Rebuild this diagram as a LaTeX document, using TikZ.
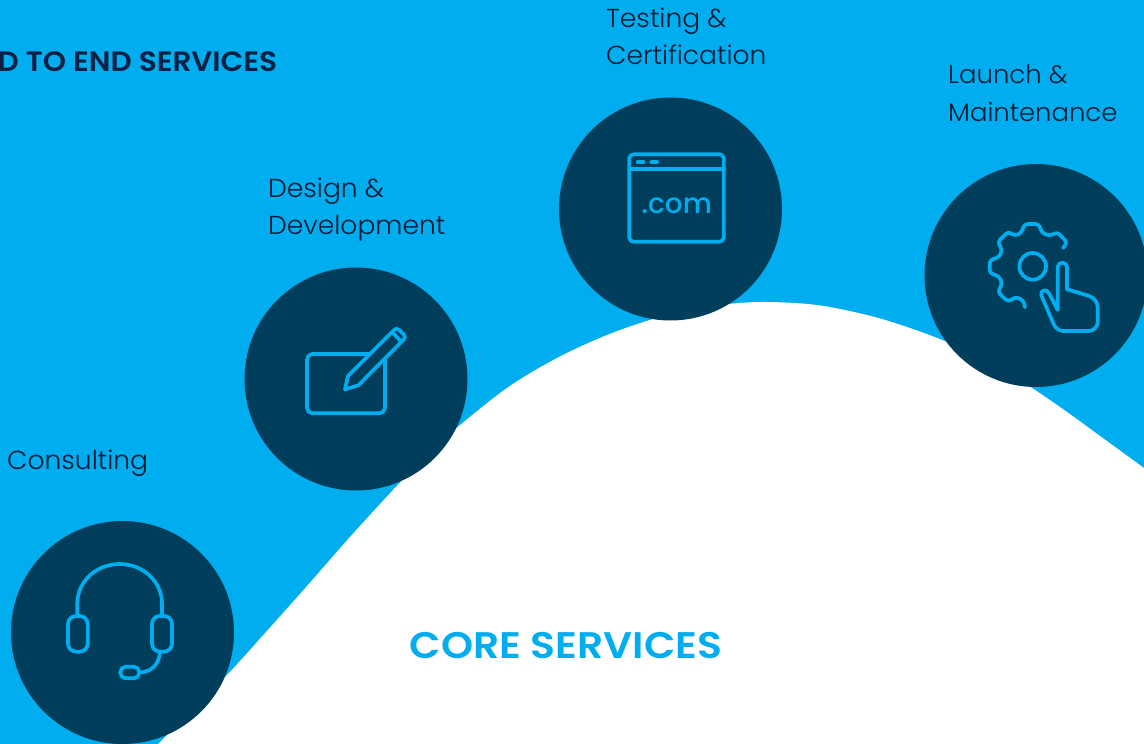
\documentclass[tikz,border=0pt]{standalone}
\usepackage{fontspec}
\setmainfont{Poppins}
\newfontfamily\lightf[FakeStretch=1.02]{Poppins Light}
\newfontfamily\headf[FakeStretch=1.055]{Poppins SemiBold}
\newfontfamily\coref[FakeStretch=1.105]{Poppins SemiBold}
\newfontfamily\comf{Poppins Medium}
\definecolor{sky}{HTML}{00ADEF}
\definecolor{deep}{HTML}{003E5C}
\definecolor{navy}{HTML}{0A2145}
\definecolor{ink}{HTML}{061A33}
\tikzset{
  disc/.style={circle,fill=deep,draw=none,inner sep=0pt,minimum size=223pt},
  lab/.style={anchor=west,inner sep=0pt,text=ink,font=\lightf\fontsize{26}{37}\selectfont,align=left},
  icon/.style={draw=sky,line width=3.7pt,line cap=round,line join=round,fill=none}
}
\begin{document}
\begin{tikzpicture}[x=1pt,y=-1pt]
\useasboundingbox (0,0) rectangle (1144,744);
\fill[sky] (0,0) rectangle (1144,744);
\fill[white] plot[smooth,tension=0.55] coordinates {(158,744) (225,677) (266,632) (307,586) (350,537) (393,490) (423,459) (453,431) (507,388) (557,358) (607,335) (653,319) (690,310) (728,304) (767,302) (817,305) (867,315) (907,327) (947,342) (990,362) (1032,388) (1067,412) (1100,436) (1144,468)} -- (1144,744) -- cycle;
\node[disc] (c1) at (122.5,632.5) {};
\node[disc] (c2) at (356,379) {};
\node[disc] (c3) at (670.5,209) {};
\node[disc] (c4) at (1036,275.5) {};
\node[anchor=west,inner sep=0pt,text=navy,font=\headf\fontsize{28}{30}\selectfont] (t0) at (-2.5,62) {D TO END SERVICES};
\node[anchor=center,inner sep=0pt,text=sky,font=\coref\fontsize{37}{40}\selectfont] (t5) at (566,646) {CORE SERVICES};
\node[lab] (t1) at (7,463) {Consulting};
\node[lab] (t2) at (268,210) {Design \&\\Development};
\node[lab] (t3) at (606,36) {Testing \&\\Certification};
\node[lab,font=\lightf\fontsize{25.4}{37.5}\selectfont] (t4) at (948,93) {Launch \&\\Maintenance};
% headset
\begin{scope}[shift={(40,540)},x=0.3333pt,y=-0.3333pt]
\draw[icon] (112,225) -- (112,190) arc[start angle=180,end angle=360,x radius=127,y radius=118] -- (366,225);
\draw[icon,rounded corners=8pt] (84,228) rectangle (143,335);
\draw[icon,rounded corners=8pt] (336,228) rectangle (396,335);
\draw[icon] (360,337) .. controls (356,375) and (335,395) .. (298,398);
\draw[icon,rounded corners=5.5pt] (241,380) rectangle (298,415);
\end{scope}
% tablet and pen
\begin{scope}[shift={(290,310)},x=0.3333pt,y=-0.3333pt]
\draw[icon,rounded corners=5.5pt] (240,132) -- (51,132) -- (51,310) -- (285,310) -- (285,150);
\draw[icon] (165,238) -- (174,198) -- (310,62) .. controls (318,55) and (322,55) .. (328,60) -- (341,73) .. controls (346,79) and (346,84) .. (340,90) -- (205,226) -- cycle;
\draw[icon] (308,68) -- (333,94);
\end{scope}
% browser
\begin{scope}[shift={(610,140)},x=0.3333pt,y=-0.3333pt]
\draw[icon,rounded corners=4pt] (58,43) rectangle (341,305);
\draw[icon] (58,87) -- (341,87);
\draw[icon] (83,66) -- (101,66);
\draw[icon] (124,66) -- (141,66);
\node[inner sep=0pt,text=sky,font=\comf\fontsize{28}{30}\selectfont] (com) at (200,198) {.com};
\end{scope}
% gear and hand
\begin{scope}[shift={(975,210)},x=0.3333pt,y=-0.3333pt]
\draw[icon,rounded corners=3.5pt] (264,114) -- (277,98) -- (247,66) -- (224,78) -- (200,68) -- (192,42) -- (148,42) -- (140,68) -- (118,78) -- (100,64) -- (68,96) -- (82,120) -- (72,142) -- (44,150) -- (44,190) -- (72,198) -- (82,222) -- (68,246) -- (100,276) -- (122,260) -- (146,272) -- (150,292);
\draw[icon] (173,169) circle[radius=40];
\draw[icon] (248,300) -- (248,172) arc[start angle=180,end angle=360,radius=14] -- (276,238) -- (340,257) .. controls (358,263) and (368,277) .. (368,292) -- (368,335) .. controls (368,352) and (355,363) .. (340,363) -- (265,363) .. controls (250,363) and (240,352) .. (235,340) -- (199,256) .. controls (194,240) and (216,235) .. (222,250) -- cycle;
\end{scope}
\end{tikzpicture}
\end{document}
